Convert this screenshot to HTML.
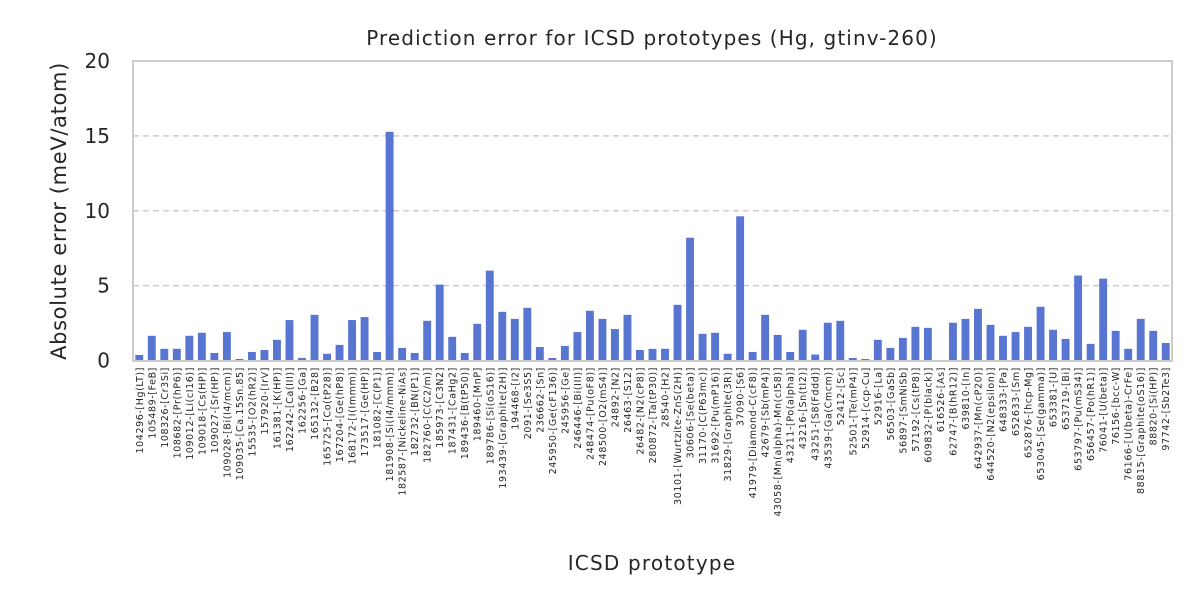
<!DOCTYPE html>
<html><head><meta charset="utf-8"><style>
body{margin:0;background:#fff;}
svg{font-family:"DejaVu Sans","Liberation Sans",sans-serif;}
</style></head><body>
<svg id="chart" width="1200" height="600">
<rect width="1200" height="600" fill="#fff"/>
<text x="652" y="45" font-size="20" letter-spacing="1.1" text-anchor="middle" fill="#262626">Prediction error for ICSD prototypes (Hg, gtinv-260)</text>
<g id="grid"></g><g id="bars"></g><g id="yticks"></g><g id="xticks"></g>
<rect x="133" y="61" width="1039" height="300" fill="none" stroke="#cccccc" stroke-width="2"/>
<text transform="translate(66,211) rotate(-90)" font-size="21" letter-spacing="0.65" text-anchor="middle" fill="#262626">Absolute error (meV/atom)</text>
<text x="652" y="570" font-size="20" letter-spacing="1.2" text-anchor="middle" fill="#262626">ICSD prototype</text>
</svg>
<script>
const categories=["104296-[Hg(LT)]","105489-[FeB]","108326-[Cr3Si]","108682-[Pr(hP6)]","109012-[Li(cI16)]","109018-[Cs(HP)]","109027-[Sr(HP)]","109028-[Bi(I4/mcm)]","109035-[Ca.15Sn.85]","15535-[O2(hR2)]","157920-[IrV]","161381-[K(HP)]","162242-[Ca(III)]","162256-[Ga]","165132-[B28]","165725-[Co(tP28)]","167204-[Ge(hP8)]","168172-[I(Immm)]","173517-[Ge(HP)]","181082-[C(P1)]","181908-[Si(I4/mmm)]","182587-[Nickeline-NiAs]","182732-[BN(P1)]","182760-[C(C2/m)]","185973-[C3N2]","187431-[CaHg2]","189436-[B(tP50)]","189460-[MnP]","189786-[Si(oS16)]","193439-[Graphite(2H)]","194468-[I2]","2091-[Se3S5]","236662-[Sn]","245950-[Ge(cF136)]","245956-[Ge]","246446-[Bi(III)]","248474-[Pu(oF8)]","248500-[O2(mS4)]","24892-[N2]","26463-[S12]","26482-[N2(cP8)]","280872-[Ta(tP30)]","28540-[H2]","30101-[Wurtzite-ZnS(2H)]","30606-[Se(beta)]","31170-[C(P63mc)]","31692-[Pu(mP16)]","31829-[Graphite(3R)]","37090-[S6]","41979-[Diamond-C(cF8)]","42679-[Sb(mP4)]","43058-[Mn(alpha)-Mn(cI58)]","43211-[Po(alpha)]","43216-[Sn(tI2)]","43251-[S8(Fddd)]","43539-[Ga(Cmcm)]","52412-[Sc]","52501-[Te(mP4)]","52914-[ccp-Cu]","52916-[La]","56503-[GaSb]","56897-[SmNiSb]","57192-[Cs(tP8)]","609832-[P(black)]","616526-[As]","62747-[B(hR12)]","639810-[In]","642937-[Mn(cP20)]","644520-[N2(epsilon)]","648333-[Pa]","652633-[Sm]","652876-[hcp-Mg]","653045-[Se(gamma)]","653381-[U]","653719-[Bi]","653797-[Pu(mS34)]","656457-[Po(hR1)]","76041-[U(beta)]","76156-[bcc-W]","76166-[U(beta)-CrFe]","88815-[Graphite(oS16)]","88820-[Si(HP)]","97742-[Sb2Te3]"];
const errors=[0.37,1.65,0.78,0.78,1.65,1.85,0.5,1.9,0.1,0.57,0.7,1.38,2.7,0.17,3.05,0.45,1.04,2.7,2.9,0.57,15.27,0.84,0.5,2.65,5.07,1.58,0.5,2.45,6.0,3.25,2.78,3.52,0.9,0.17,0.97,1.9,3.32,2.78,2.1,3.05,0.7,0.78,0.78,3.72,8.2,1.78,1.85,0.45,9.63,0.57,3.05,1.71,0.57,2.05,0.4,2.52,2.65,0.17,0.1,1.38,0.84,1.51,2.25,2.18,0.02,2.52,2.78,3.45,2.38,1.65,1.9,2.25,3.59,2.05,1.44,5.67,1.11,5.47,1.98,0.78,2.78,1.98,1.17];
const yTicks=[0,5,10,15,20];
const NS="http://www.w3.org/2000/svg";
const X0=133,X1=1172,Y0=360.5,Y1=61,YMAX=20;
const step=(X1-X0)/categories.length;
const xC=i=>X0+(i+0.5)*step;
const yS=v=>Y0-(v/YMAX)*(Y0-Y1);
function mk(tag,attrs,parent){const e=document.createElementNS(NS,tag);for(const k in attrs)e.setAttribute(k,attrs[k]);parent.appendChild(e);return e;}
const grid=document.getElementById('grid'),bars=document.getElementById('bars'),yt=document.getElementById('yticks'),xt=document.getElementById('xticks');
yTicks.forEach(t=>{
  if(t>0&&t<YMAX){const l=mk('line',{x1:X0,x2:X1,y1:yS(t),y2:yS(t),stroke:'#cccccc','stroke-width':1.6,'stroke-dasharray':'6,4'},grid);
  
  }
  const tx=mk('text',{x:110,y:yS(t)+7,'font-size':20,'text-anchor':'end',fill:'#262626'},yt);
  tx.textContent=t;
  
  
});
const bw=step*0.63;
categories.forEach((c,i)=>{
  const v=errors[i];
  const r=mk('rect',{x:xC(i)-bw/2,y:yS(v),width:bw,height:Y0-yS(v),fill:'#5875d1'},bars);
  
  
  const t=mk('text',{transform:`translate(${xC(i)+3.5},367) rotate(-90)`,'font-size':9.5,'letter-spacing':0.6,'text-anchor':'end',fill:'#262626'},xt);
  t.textContent=c;
  
  
});
</script>
</body></html>
